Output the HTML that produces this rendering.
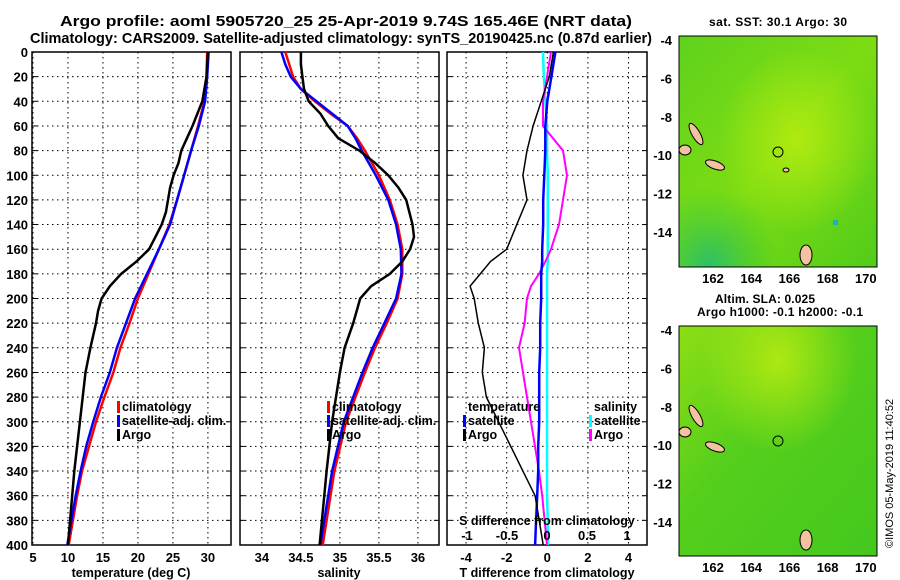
<!DOCTYPE html>
<html><head><meta charset="utf-8"><style>
body{margin:0;background:#fff;}
svg{display:block;font-family:"Liberation Sans",sans-serif;font-weight:bold;}
</style></head><body>
<svg id="c" width="900" height="580" viewBox="0 0 900 580" xmlns="http://www.w3.org/2000/svg">
<defs>
<linearGradient id="g1" x1="0" y1="0" x2="1" y2="1"><stop offset="0" stop-color="#5fd21c"/><stop offset="0.5" stop-color="#7ddc14"/><stop offset="1" stop-color="#52cc1a"/></linearGradient>
<radialGradient id="y1" cx="0.6" cy="0.45" r="0.4"><stop offset="0" stop-color="#b4ec10" stop-opacity="0.9"/><stop offset="1" stop-color="#b4ec10" stop-opacity="0"/></radialGradient>
<radialGradient id="t1" cx="0.15" cy="1" r="0.35"><stop offset="0" stop-color="#2cc06a"/><stop offset="1" stop-color="#2cc43a" stop-opacity="0"/></radialGradient>
<linearGradient id="g2" x1="0" y1="0" x2="1" y2="1"><stop offset="0" stop-color="#8ede14"/><stop offset="0.4" stop-color="#56cf1c"/><stop offset="1" stop-color="#44c81e"/></linearGradient>
<radialGradient id="y2" cx="0.5" cy="0.15" r="0.4"><stop offset="0" stop-color="#aee812"/><stop offset="1" stop-color="#aee812" stop-opacity="0"/></radialGradient>
</defs>
<g font-size="15" text-anchor="middle">
<text x="346" y="26" textLength="572" lengthAdjust="spacingAndGlyphs">Argo profile: aoml 5905720_25 25-Apr-2019 9.74S 165.46E (NRT data)</text>
<text x="341" y="43" textLength="622" lengthAdjust="spacingAndGlyphs">Climatology: CARS2009. Satellite-adjusted climatology: synTS_20190425.nc (0.87d earlier)</text>
</g>
<g id="panels"></g>
<g>
<text x="778" y="26" font-size="12" text-anchor="middle" textLength="138">sat. SST: 30.1 Argo: 30</text>
<rect x="679" y="36" width="198" height="231" fill="url(#g1)"/>
<rect x="679" y="36" width="198" height="231" fill="url(#y1)"/>
<rect x="679" y="36" width="198" height="231" fill="url(#t1)"/>
<rect x="833" y="220" width="5" height="5" fill="#1ab0c8"/>
<g fill="#f3c2a0" stroke="#000" stroke-width="1">
<ellipse cx="696" cy="134" rx="4" ry="12" transform="rotate(-30 696 134)"/>
<ellipse cx="685" cy="150" rx="6" ry="5"/>
<ellipse cx="715" cy="165" rx="10" ry="4" transform="rotate(20 715 165)"/>
<ellipse cx="806" cy="255" rx="6" ry="10"/>
<ellipse cx="786" cy="170" rx="3" ry="2"/>
</g>
<circle cx="778" cy="152" r="5" fill="none" stroke="#000"/>
<rect x="679" y="36" width="198" height="231" fill="none" stroke="#000"/>
</g>
<g>
<text x="765" y="303" font-size="12" text-anchor="middle" textLength="100">Altim. SLA: 0.025</text>
<text x="780" y="316" font-size="12" text-anchor="middle" textLength="166">Argo h1000: -0.1 h2000: -0.1</text>
<rect x="679" y="326" width="198" height="230" fill="url(#g2)"/>
<rect x="679" y="326" width="198" height="230" fill="url(#y2)"/>
<g fill="#f3c2a0" stroke="#000" stroke-width="1">
<ellipse cx="696" cy="416" rx="4" ry="12" transform="rotate(-30 696 416)"/>
<ellipse cx="685" cy="432" rx="6" ry="5"/>
<ellipse cx="715" cy="447" rx="10" ry="4" transform="rotate(20 715 447)"/>
<ellipse cx="806" cy="540" rx="6" ry="10"/>
</g>
<circle cx="778" cy="441" r="5" fill="none" stroke="#000"/>
<rect x="679" y="326" width="198" height="230" fill="none" stroke="#000"/>
</g>
<text x="893" y="548" font-size="11" font-weight="normal" transform="rotate(-90 893 548)">©IMOS 05-May-2019 11:40:52</text>
</svg>
<script>
const depthTicks=[0,20,40,60,80,100,120,140,160,180,200,220,240,260,280,300,320,340,360,380,400];
const tempTicks=[5,10,15,20,25,30];
const salTicks=[34,34.5,35,35.5,36];
const tdTicks=[-4,-2,0,2,4];
const sdTicks=[-1,-0.5,0,0.5,1];
const sdTickLabels=['-1','-0.5','0','0.5','1'];
const mapLonTicks=[162,164,166,168,170];
const mapLatTicks=[-4,-6,-8,-10,-12,-14];
// temperature profiles
const tClimDepth=[0,20,40,60,80,100,120,140,160,180,200,220,240,260,280,300,320,340,360,380,400];
const tClim=[29.9,29.8,29.5,28.6,27.6,26.6,25.6,24.5,23,21.5,20,18.8,17.5,16.5,15.2,14,13,12,11.3,10.7,10.1];
const tSat=[30.1,29.9,29.6,28.7,27.6,26.6,25.6,24.6,23,21.3,19.6,18.3,17,16,14.7,13.6,12.6,11.8,11.1,10.5,9.9];
const tArgoDepth=[0,20,40,50,60,70,80,90,100,110,120,130,140,150,160,170,180,190,200,210,220,240,260,280,300,320,340,360,380,400];
const tArgo=[30,29.8,29.2,28.5,27.8,27,26.2,25.8,25.1,24.6,24.3,24,23.4,22.5,21.6,19.8,17.6,16,14.8,14.3,14,13.2,12.5,12.1,11.7,11.3,10.9,10.6,10.3,10];
// salinity profiles
const sDepth=[0,10,20,30,40,50,60,70,80,100,120,140,160,180,200,220,240,260,280,300,340,400];
const sClim=[34.3,34.35,34.4,34.5,34.68,34.88,35.1,35.22,35.32,35.5,35.64,35.74,35.8,35.8,35.74,35.6,35.45,35.32,35.2,35.08,34.93,34.78];
const sSat=[34.25,34.3,34.37,34.5,34.7,34.9,35.1,35.2,35.28,35.46,35.62,35.72,35.78,35.79,35.72,35.57,35.42,35.29,35.17,35.05,34.9,34.75];
const sArgoDepth=[0,10,20,30,40,50,60,70,80,90,100,110,120,140,150,160,170,180,190,200,220,240,260,280,300,340,400];
const sArgo=[34.5,34.5,34.52,34.54,34.6,34.75,34.85,34.98,35.25,35.45,35.62,35.75,35.85,35.93,35.95,35.9,35.8,35.64,35.4,35.26,35.17,35.06,35,34.95,34.9,34.83,34.74];
// differences
const dDepth=[0,20,40,60,80,100,120,140,160,170,180,190,200,220,240,260,280,300,320,340,360,380,400];
const tdArgo=[0.3,0.1,-0.3,-0.7,-1,-1.2,-1,-1.5,-2,-2.8,-3.3,-3.8,-3.6,-3.4,-3.1,-3.2,-3,-2.4,-1.8,-1.2,-0.6,-0.4,-0.2];
const tdSat=[0.4,0.2,0,-0.1,-0.1,-0.15,-0.2,-0.2,-0.25,-0.25,-0.3,-0.3,-0.3,-0.35,-0.35,-0.4,-0.4,-0.4,-0.45,-0.45,-0.5,-0.55,-0.6];
const sdArgo=[0.05,0,-0.05,-0.05,0.2,0.25,0.2,0.15,0.05,-0.02,-0.1,-0.2,-0.25,-0.28,-0.35,-0.3,-0.25,-0.2,-0.15,-0.1,-0.06,-0.03,0];
const sdSat=[-0.05,-0.04,-0.02,0,0,0.01,0.01,0.01,0.01,0.01,0,0,0,0,0,0,0,0,0,0,0,0.01,0.01];

const NS="http://www.w3.org/2000/svg";
const root=document.getElementById('panels');
function mk(tag,attrs,parent,txt){const e=document.createElementNS(NS,tag);for(const k in attrs)e.setAttribute(k,attrs[k]);if(txt!==undefined)e.textContent=txt;(parent||root).appendChild(e);return e;}
const Y0=52,Y1=545;
const yD=d=>Y0+d/400*(Y1-Y0);
function panel(name,x0,x1,xmin,xmax){
  const g=mk('g',{});
  
  
  const sx=v=>x0+(v-xmin)/(xmax-xmin)*(x1-x0);
  return {g,sx,x0,x1};
}
function grid(p,xt,labels){
  depthTicks.forEach(d=>{const y=yD(d);
    mk('line',{x1:p.x0,x2:p.x1,y1:y,y2:y,stroke:'#000','stroke-dasharray':'1.5 3.5','stroke-width':1},p.g);
    mk('line',{x1:p.x0,x2:p.x0+5,y1:y,y2:y,stroke:'#000'},p.g);
    mk('line',{x1:p.x1-5,x2:p.x1,y1:y,y2:y,stroke:'#000'},p.g);
  });
  xt.forEach(v=>{const x=p.sx(v);
    mk('line',{x1:x,x2:x,y1:Y0,y2:Y1,stroke:'#000','stroke-dasharray':'1.5 3.5'},p.g);
    if(labels){const t=mk('text',{x:x,y:562,'font-size':13,'text-anchor':'middle'},p.g,String(v));
    
    }
  });
  mk('rect',{x:p.x0,y:Y0,width:p.x1-p.x0,height:Y1-Y0,fill:'none',stroke:'#000','stroke-width':1.5},p.g);
}
function line(p,xs,ds,color,w,name){
  const pts=xs.map((v,i)=>p.sx(v).toFixed(1)+','+yD(ds[i]).toFixed(1)).join(' ');
  const l=mk('polyline',{points:pts,fill:'none',stroke:color,'stroke-width':w},p.g);
  
  
}
function legend(p,x,y,items){
  items.forEach((it,i)=>{
    if(it[1]) mk('rect',{x:x-5,y:y+i*14-10,width:3,height:12,fill:it[1]},p.g);
    const t=mk('text',{x:x,y:y+i*14,'font-size':12.5},p.g,it[0]);
    
    
  });
}
depthTicks.forEach(d=>{const t=mk('text',{x:28,y:yD(d)+5,'font-size':13,'text-anchor':'end'},root,String(d));
  
  });
const p1=panel('temperature-panel',32,231,4.86,33.3);
grid(p1,tempTicks,true);
line(p1,tClim,tClimDepth,'#f00',2.5,'temp-climatology-line');
line(p1,tSat,tClimDepth,'#00f',2.5,'temp-satellite-line');
line(p1,tArgo,tArgoDepth,'#000',2.5,'temp-argo-line');
legend(p1,122,411,[['climatology','#f00'],['satellite-adj. clim.','#00f'],['Argo','#000']]);
mk('text',{x:131,y:577,'font-size':12.5,'text-anchor':'middle'},p1.g,'temperature (deg C)');
const p2=panel('salinity-panel',240,439,33.72,36.27);
grid(p2,salTicks,true);
line(p2,sClim,sDepth,'#f00',2.5,'sal-climatology-line');
line(p2,sSat,sDepth,'#00f',2.5,'sal-satellite-line');
line(p2,sArgo,sArgoDepth,'#000',2.5,'sal-argo-line');
legend(p2,332,411,[['climatology','#f00'],['satellite-adj. clim.','#00f'],['Argo','#000']]);
mk('text',{x:339,y:577,'font-size':12.5,'text-anchor':'middle'},p2.g,'salinity');
const p3=panel('difference-panel',447,647,-4.94,4.91);
const p3s={g:p3.g,x0:447,x1:647,sx:v=>547+v*80};
grid(p3,tdTicks,true);
line(p3s,sdSat,dDepth,'#0ff',2.5,'sal-diff-satellite-line');
line(p3s,sdArgo,dDepth,'#f0f',2,'sal-diff-argo-line');
line(p3,tdSat,dDepth,'#00f',2.5,'temp-diff-satellite-line');
line(p3,tdArgo,dDepth,'#000',1.5,'temp-diff-argo-line');
legend(p3,468,411,[['temperature',null],['satellite','#00f'],['Argo','#000']]);
legend(p3,594,411,[['salinity',null],['satellite','#0ff'],['Argo','#f0f']]);
mk('text',{x:547,y:525,'font-size':12.5,'text-anchor':'middle'},p3.g,'S difference from climatology');
sdTicks.forEach((v,i)=>{const t=mk('text',{x:p3s.sx(v),y:540,'font-size':13,'text-anchor':'middle'},p3.g,sdTickLabels[i]);
  
  });
mk('text',{x:547,y:577,'font-size':12.5,'text-anchor':'middle'},p3.g,'T difference from climatology');
function mapTicks(top,bot,latTop){
  const g=mk('g',{});
  
  
  const sx=v=>713+(v-162)*19.1, sy=v=>latTop+(-4-v)*19.2;
  mapLonTicks.forEach(v=>{mk('line',{x1:sx(v),x2:sx(v),y1:top,y2:top+4,stroke:'#000'},g);
    mk('line',{x1:sx(v),x2:sx(v),y1:bot-4,y2:bot,stroke:'#000'},g);
    mk('text',{x:sx(v),y:bot+16,'font-size':13,'text-anchor':'middle'},g,String(v));});
  mapLatTicks.forEach(v=>{mk('line',{x1:679,x2:683,y1:sy(v),y2:sy(v),stroke:'#000'},g);
    mk('line',{x1:873,x2:877,y1:sy(v),y2:sy(v),stroke:'#000'},g);
    mk('text',{x:672,y:sy(v)+5,'font-size':13,'text-anchor':'end'},g,String(v));});
}
mapTicks(36,267,40);
mapTicks(326,556,330);
</script>
</body></html>
